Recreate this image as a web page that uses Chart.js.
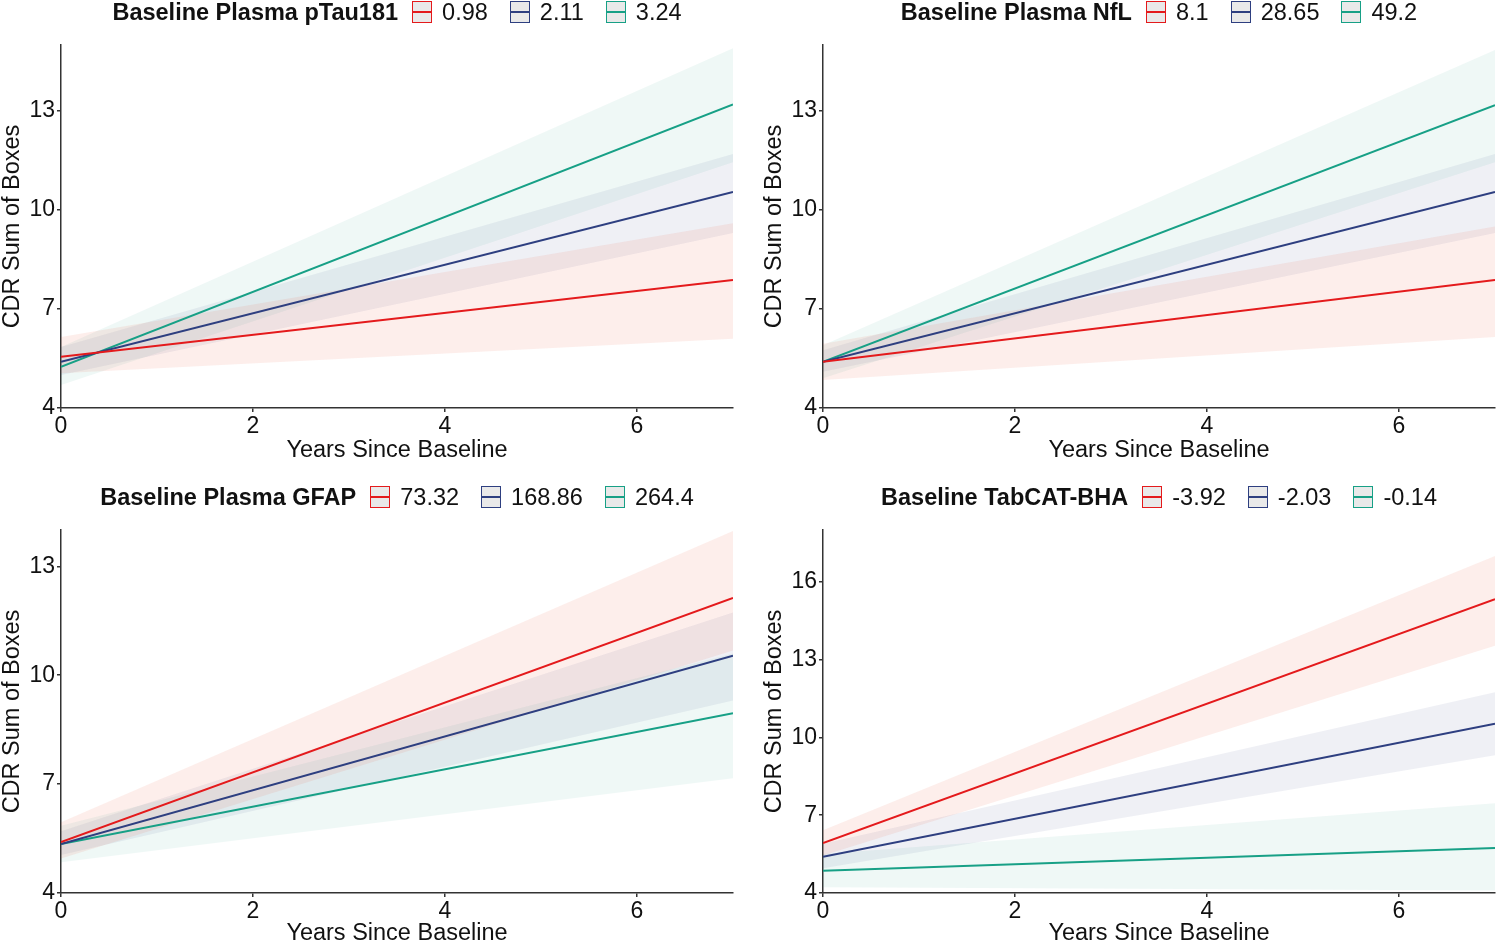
<!DOCTYPE html>
<html><head><meta charset="utf-8">
<script src="https://cdn.jsdelivr.net/npm/chart.js@4.4.1/dist/chart.umd.min.js"></script>
<style>
html,body{margin:0;padding:0;background:#fff;overflow:hidden;width:1496px;height:943px;position:relative;}
canvas{position:absolute;}
.legend{position:absolute;display:flex;align-items:center;justify-content:center;font-family:"Liberation Sans",Arial,sans-serif;font-size:23.5px;color:#111;white-space:nowrap;height:26px;z-index:2;}
.legend .ttl{font-weight:bold;margin-right:14px;}
.key{width:20px;height:22px;border:1.5px solid;box-sizing:border-box;background:#E9E9E9;position:relative;margin-right:10px;}
.key i{position:absolute;left:0;right:0;top:50%;height:2px;margin-top:-1px;}
.lab{margin-right:22px;}
.lab:last-child{margin-right:0;}
</style></head><body>
<script>
// ---------- data ----------
const xYears = [0, 7];
const xTicks = [0, 2, 4, 6];
const yMin = 4;
const seriesColors = ['#E41A1C', '#2E3F80', '#17A086'];
const bandColors = ['rgba(235,90,60,0.10)', 'rgba(46,63,128,0.08)', 'rgba(23,160,134,0.07)'];

const ptauTitle = 'Baseline Plasma pTau181';
const ptauLevels = ['0.98', '2.11', '3.24'];
const ptauFit   = [[5.55, 7.88], [5.40, 10.55], [5.25, 13.20]];
const ptauLower = [[5.05, 6.10], [5.00, 9.30], [4.70, 11.45]];
const ptauUpper = [[6.15, 9.60], [5.85, 11.70], [5.85, 14.90]];
const ptauYTicks = [4, 7, 10, 13];
const ptauYMax = 15;

const nflTitle = 'Baseline Plasma NfL';
const nflLevels = ['8.1', '28.65', '49.2'];
const nflFit   = [[5.40, 7.88], [5.40, 10.55], [5.40, 13.18]];
const nflLower = [[4.85, 6.15], [5.10, 9.30], [4.90, 11.45]];
const nflUpper = [[5.95, 9.50], [5.75, 11.70], [5.90, 14.85]];
const nflYTicks = [4, 7, 10, 13];
const nflYMax = 15;

const gfapTitle = 'Baseline Plasma GFAP';
const gfapLevels = ['73.32', '168.86', '264.4'];
const gfapFit   = [[5.40, 12.13], [5.35, 10.54], [5.35, 8.95]];
const gfapLower = [[4.95, 10.68], [5.05, 9.30], [4.85, 7.16]];
const gfapUpper = [[5.95, 13.97], [5.70, 11.73], [5.85, 10.60]];
const gfapYTicks = [4, 7, 10, 13];
const gfapYMax = 14;

const bhaTitle = 'Baseline TabCAT-BHA';
const bhaLevels = ['-3.92', '-2.03', '-0.14'];
const bhaFit   = [[5.93, 15.33], [5.40, 10.53], [4.86, 5.74]];
const bhaLower = [[5.45, 13.54], [4.95, 9.31], [4.22, 4.10]];
const bhaUpper = [[6.42, 17.00], [5.90, 11.74], [5.50, 7.46]];
const bhaYTicks = [4, 7, 10, 13, 16];
const bhaYMax = 18;

const xTitle = 'Years Since Baseline';
const yTitle = 'CDR Sum of Boxes';

// ---------- layout ----------
const FONT = '"Liberation Sans", Arial, sans-serif';
const panels = [
  {title: ptauTitle, levels: ptauLevels, fit: ptauFit, lower: ptauLower, upper: ptauUpper, yTicks: ptauYTicks, yMax: ptauYMax,
   cl: 0, cw: 748, padR: 15, plotTop: 45, plotBottom: 408, axisH: 55, legendMid: 12},
  {title: nflTitle, levels: nflLevels, fit: nflFit, lower: nflLower, upper: nflUpper, yTicks: nflYTicks, yMax: nflYMax,
   cl: 762, cw: 734, padR: 1, plotTop: 45, plotBottom: 408, axisH: 55, legendMid: 12},
  {title: gfapTitle, levels: gfapLevels, fit: gfapFit, lower: gfapLower, upper: gfapUpper, yTicks: gfapYTicks, yMax: gfapYMax,
   cl: 0, cw: 748, padR: 15, plotTop: 530, plotBottom: 893, axisH: 53, legendMid: 497},
  {title: bhaTitle, levels: bhaLevels, fit: bhaFit, lower: bhaLower, upper: bhaUpper, yTicks: bhaYTicks, yMax: bhaYMax,
   cl: 762, cw: 734, padR: 1, plotTop: 530, plotBottom: 893, axisH: 53, legendMid: 497}
];
const Y_AXIS_W = 61;
const PAD_TOP = 20;

panels.forEach(p => {
  const canvas = document.createElement('canvas');
  const ctop = p.plotTop - PAD_TOP;
  const ch = p.plotBottom + p.axisH - ctop;
  canvas.width = p.cw; canvas.height = ch;
  canvas.style.left = p.cl + 'px'; canvas.style.top = ctop + 'px';
  canvas.style.width = p.cw + 'px'; canvas.style.height = ch + 'px';
  document.body.appendChild(canvas);

  // legend
  const plotLeft = p.cl + Y_AXIS_W;
  const plotW = p.cw - Y_AXIS_W - p.padR;
  const lg = document.createElement('div');
  lg.className = 'legend';
  lg.style.left = plotLeft + 'px'; lg.style.width = plotW + 'px';
  lg.style.top = (p.legendMid - 13) + 'px';
  const t = document.createElement('span'); t.className = 'ttl'; t.textContent = p.title; lg.appendChild(t);
  p.levels.forEach((lv, i) => {
    const k = document.createElement('span'); k.className = 'key'; k.style.borderColor = seriesColors[i];
    const ln = document.createElement('i'); ln.style.background = seriesColors[i]; k.appendChild(ln);
    lg.appendChild(k);
    const l = document.createElement('span'); l.className = 'lab'; l.textContent = lv; lg.appendChild(l);
  });
  document.body.appendChild(lg);

  const datasets = [];
  p.levels.forEach((lv, i) => {
    datasets.push({data: xYears.map((x, j) => ({x, y: p.upper[i][j]})), borderWidth: 0, pointRadius: 0,
      fill: '+1', backgroundColor: bandColors[i], order: 10});
    datasets.push({data: xYears.map((x, j) => ({x, y: p.lower[i][j]})), borderWidth: 0, pointRadius: 0,
      fill: false, order: 10});
  });
  p.levels.forEach((lv, i) => {
    datasets.push({label: lv, data: xYears.map((x, j) => ({x, y: p.fit[i][j]})), borderColor: seriesColors[i],
      borderWidth: 2, pointRadius: 0, fill: false, order: 0});
  });

  const axisCommon = {
    border: {display: true, color: '#333', width: 1.5},
    grid: {display: true, drawOnChartArea: false, drawTicks: true, tickLength: 4, color: '#333', lineWidth: 1.5},
  };
  new Chart(canvas, {
    type: 'line',
    data: {datasets},
    options: {
      responsive: false, animation: false, devicePixelRatio: 1,
      layout: {padding: {top: PAD_TOP, right: p.padR, left: 0, bottom: 0}},
      plugins: {legend: {display: false}, tooltip: {enabled: false}},
      scales: {
        x: Object.assign({}, axisCommon, {
          type: 'linear', min: 0, max: 7,
          ticks: {font: {size: 23, family: FONT}, color: '#111', padding: 1, maxRotation: 0},
          title: {display: true, text: xTitle, font: {size: 23.5, family: FONT}, color: '#111', padding: {top: 0, bottom: -2}},
          afterBuildTicks: s => { s.ticks = xTicks.map(v => ({value: v})); },
          afterFit: s => { s.height = p.axisH; }
        }),
        y: Object.assign({}, axisCommon, {
          type: 'linear', min: yMin, max: p.yMax,
          ticks: {font: {size: 23, family: FONT}, color: '#111', padding: 2},
          title: {display: true, text: yTitle, font: {size: 23.5, family: FONT}, color: '#111', padding: {top: -2, bottom: 0}},
          afterBuildTicks: s => { s.ticks = p.yTicks.map(v => ({value: v})); },
          afterFit: s => { s.width = Y_AXIS_W; }
        })
      }
    }
  });
});
</script>
</body></html>
